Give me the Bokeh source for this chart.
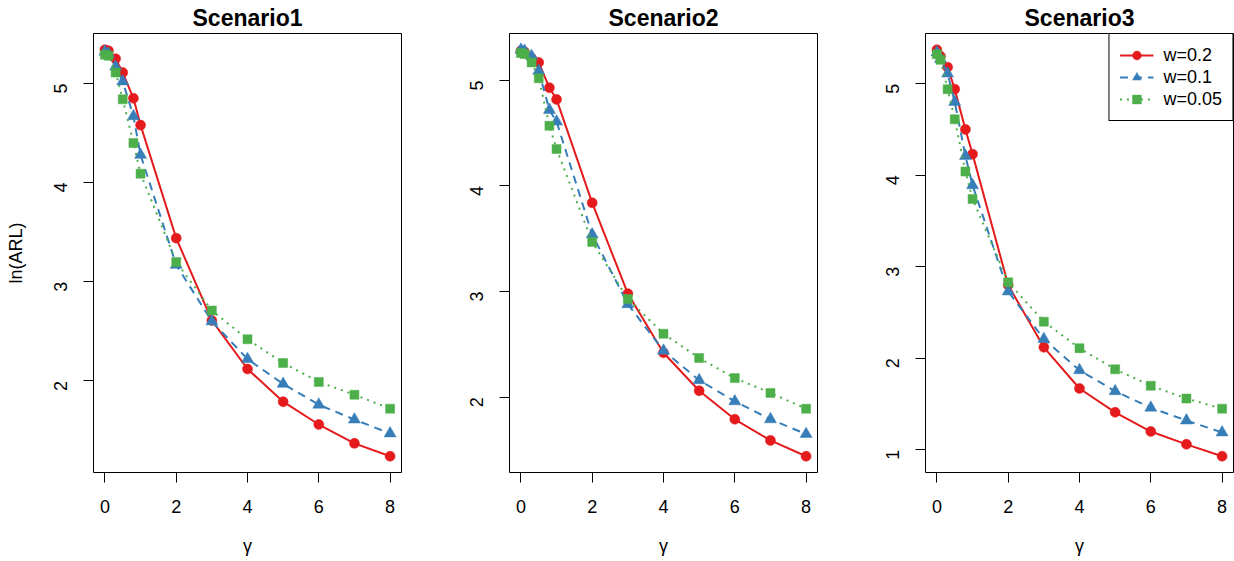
import math
import numpy as np
from bokeh.plotting import figure
from bokeh.layouts import row
from bokeh.models import FixedTicker, Range1d, Legend, LegendItem
from bokeh.embed import file_html
from bokeh.resources import INLINE

# ---- data ----
gamma = [0, 0.1, 0.3, 0.5, 0.8, 1, 2, 3, 4, 5, 6, 7, 8]

titles = ["Scenario1", "Scenario2", "Scenario3"]
series_labels = ["w=0.2", "w=0.1", "w=0.05"]

s1_w02 = [5.34, 5.33, 5.25, 5.11, 4.85, 4.58, 3.44, 2.61, 2.12, 1.79, 1.56, 1.37, 1.24]
s1_w01 = [5.32, 5.30, 5.17, 5.02, 4.67, 4.28, 3.17, 2.60, 2.22, 1.97, 1.76, 1.61, 1.47]
s1_w005 = [5.29, 5.28, 5.11, 4.84, 4.40, 4.09, 3.20, 2.71, 2.42, 2.18, 1.99, 1.86, 1.72]

s2_w02 = [5.28, 5.27, 5.21, 5.17, 4.93, 4.82, 3.84, 2.98, 2.42, 2.06, 1.79, 1.59, 1.44]
s2_w01 = [5.29, 5.28, 5.23, 5.09, 4.72, 4.61, 3.54, 2.88, 2.44, 2.16, 1.96, 1.79, 1.65]
s2_w005 = [5.26, 5.25, 5.17, 5.02, 4.57, 4.35, 3.47, 2.93, 2.60, 2.37, 2.18, 2.04, 1.89]

s3_w02 = [5.37, 5.30, 5.18, 4.94, 4.50, 4.23, 2.80, 2.12, 1.67, 1.41, 1.20, 1.06, 0.93]
s3_w01 = [5.34, 5.27, 5.11, 4.80, 4.21, 3.89, 2.73, 2.21, 1.87, 1.64, 1.46, 1.32, 1.19]
s3_w005 = [5.32, 5.26, 4.94, 4.61, 4.04, 3.74, 2.83, 2.40, 2.11, 1.88, 1.70, 1.56, 1.45]

x_ticks = [0, 2, 4, 6, 8]

# ---- styles ----
colors = ["#E41A1C", "#377EB8", "#4DAF4A"]
dashes = ["solid", "8 6", "2 5"]
markers = ["circle", "triangle", "square"]
msizes = [10, 12, 9]
FONT = "Liberation Sans"


def make_panel(title, series, width, left_border, right_border, show_ylabel, show_legend):
    xs = np.array(gamma, dtype=float)
    ally = np.concatenate([np.array(s, dtype=float) for s in series])
    xpad = 0.04 * (xs.max() - xs.min())
    ypad = 0.04 * (ally.max() - ally.min())
    y0, y1 = ally.min() - ypad, ally.max() + ypad
    p = figure(width=width, height=561, output_backend="svg", toolbar_location=None,
               x_range=Range1d(xs.min() - xpad, xs.max() + xpad),
               y_range=Range1d(y0, y1),
               min_border_left=left_border, min_border_right=right_border,
               min_border_top=33, min_border_bottom=89,
               title=title)
    p.background_fill_color = "white"
    p.border_fill_color = "white"
    p.outline_line_color = "black"
    p.outline_line_width = 1
    p.xgrid.visible = False
    p.ygrid.visible = False

    p.title.align = "center"
    p.title.text_font = FONT
    p.title.text_font_size = "23px"
    p.title.text_font_style = "bold"
    p.title.text_color = "black"
    p.title.standoff = 5

    yt = list(range(int(math.ceil(y0)), int(math.floor(y1)) + 1))
    p.xaxis.ticker = FixedTicker(ticks=x_ticks)
    p.yaxis.ticker = FixedTicker(ticks=yt)
    for ax in (p.xaxis[0], p.yaxis[0]):
        ax.axis_line_color = None
        ax.major_tick_out = 10
        ax.major_tick_in = 0
        ax.minor_tick_out = 0
        ax.minor_tick_in = 0
        ax.major_tick_line_color = "black"
        ax.major_label_text_font = FONT
        ax.major_label_text_font_size = "18px"
        ax.major_label_text_color = "black"
        ax.axis_label_text_font = FONT
        ax.axis_label_text_font_size = "18px"
        ax.axis_label_text_font_style = "normal"
        ax.axis_label_text_color = "black"
    p.xaxis.major_label_standoff = 17
    p.yaxis.major_label_standoff = 23
    p.yaxis.major_label_orientation = math.pi / 2
    p.xaxis.axis_label = "γ"
    p.xaxis.axis_label_standoff = 20
    if show_ylabel:
        p.yaxis.axis_label = "ln(ARL)"
        p.yaxis.axis_label_standoff = 19

    items = []
    for s, c, d, m, ms, lab in zip(series, colors, dashes, markers, msizes, series_labels):
        ln = p.line(gamma, s, line_color=c, line_width=2, line_dash=d)
        sc = p.scatter(gamma, s, marker=m, size=ms, fill_color=c, line_color=c, line_width=0.5)
        items.append(LegendItem(label=lab, renderers=[ln, sc]))

    if show_legend:
        leg = Legend(items=items, location="top_right")
        leg.margin = 0
        leg.padding = 10
        leg.spacing = 0
        leg.glyph_width = 34
        leg.glyph_height = 22
        leg.label_height = 22
        leg.label_standoff = 10
        leg.label_text_font = FONT
        leg.label_text_font_size = "18px"
        leg.label_text_color = "black"
        leg.border_line_color = "black"
        leg.border_line_width = 1
        leg.border_line_alpha = 1
        leg.background_fill_color = "white"
        leg.background_fill_alpha = 1
        p.add_layout(leg)
    return p


p1 = make_panel(titles[0], [s1_w02, s1_w01, s1_w005], 424, 93, 23, True, False)
p2 = make_panel(titles[1], [s2_w02, s2_w01, s2_w005], 416, 85, 23, False, False)
p3 = make_panel(titles[2], [s3_w02, s3_w01, s3_w005], 394, 85, 1, False, True)

layout = row(p1, p2, p3)
open("out.html", "w").write(file_html(layout, INLINE))
